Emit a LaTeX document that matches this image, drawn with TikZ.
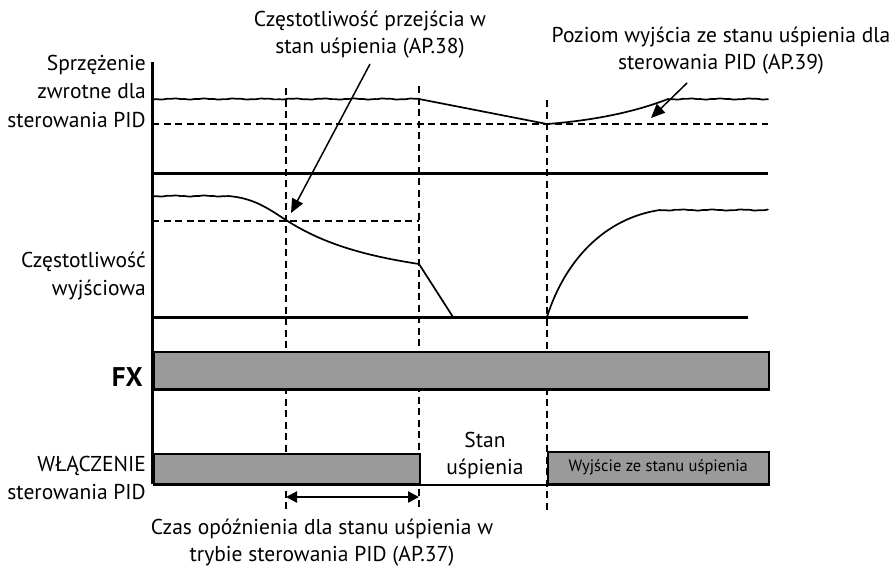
\documentclass[tikz,border=0pt]{standalone}
\usepackage{fontspec}
\setmainfont{PT Sans}
\usetikzlibrary{arrows.meta}
\definecolor{barfill}{HTML}{9A9A9A}
\newcommand{\wavyline}[3]{%
  \draw[sig] plot[domain=0:{#2-#1}, samples={int((#2-#1)/3)+2}]
    ({#1+\x}, {#3 + 0.45*sin(deg(0.21*\x)) + 0.22*sin(deg(0.67*\x+1.3))});}
\begin{document}
\begin{tikzpicture}[x=1pt,y=-1pt,
  lbl/.style={font=\fontsize{21.5}{28.5}\selectfont, inner sep=0pt, align=right, anchor=east},
  ann/.style={font=\fontsize{21.5}{27}\selectfont, inner sep=0pt, align=center},
  small/.style={font=\fontsize{16.5}{18}\selectfont, inner sep=0pt},
  sig/.style={line width=1.7pt, line cap=round, line join=round},
  heavy/.style={line width=3pt},
  guide/.style={line width=1.5pt, dash pattern=on 7pt off 4.5pt},
  bar/.style={draw, line width=1.6pt, fill=barfill, inner sep=0pt, anchor=north west},
  pointer/.style={line width=1.5pt, -{Triangle[length=14pt,width=12pt]}},
  span/.style={line width=2.4pt, {Triangle[length=11pt,width=11pt]}-{Triangle[length=11pt,width=11pt]}}]
\useasboundingbox (0,0) rectangle (893,570);

% coordinates
\coordinate (axtop) at (152,62);
\coordinate (axbot) at (152,484);
\coordinate (v1t) at (286,88);  \coordinate (v1b) at (286,510);
\coordinate (v2t) at (419,86);  \coordinate (v2b) at (419,510);
\coordinate (v3t) at (547,100); \coordinate (v3b) at (547,513);

% guide lines
\draw[guide] (v1t) -- (v1b);
\draw[guide] (v2t) -- (v2b);
\draw[guide] (v3t) -- (v3b);
\draw[guide] (152,124) -- (768,124);
\draw[guide] (152,221) -- (419,221);

% feedback signal
\wavyline{152}{419}{99}
\draw[sig] (419,99) -- (547,124) .. controls (600,120) and (640,110) .. (668,99);
\wavyline{668}{768}{99}

% separators
\draw[heavy] (152,173) -- (768,173);
\draw[heavy] (152,317) -- (748,317);

% output frequency
\wavyline{152}{228}{196}
\draw[sig] (228,196) .. controls (255,198) and (270,210) .. (286,220)
  .. controls (320,242) and (360,255) .. (419,264) -- (453,317);
\draw[sig] (547,317) .. controls (565,260) and (605,218) .. (660,210);
\wavyline{660}{768}{210}

% bars
\node[bar, minimum width=615pt, minimum height=37pt] (fx) at (153,351) {};
\draw[heavy] (fx.south west) -- (fx.south east);
\node[bar, minimum width=266pt, minimum height=30pt] (pid) at (153,453) {};
\node[bar, minimum width=221pt, minimum height=32pt, small] (wake) at (547,451) {Wyjście ze stanu uśpienia};
\draw[line width=2pt] (pid.south east) -- (wake.south west);
\draw[heavy] (pid.south west) -- (pid.south east);
\draw[heavy] (wake.south west) -- (wake.south east);

% axis
\draw[heavy] (axtop) -- (axbot);

% labels
\node[lbl] (fb) at (146,91) {Sprzężenie\\zwrotne dla\\sterowania PID};
\node[lbl] (freq) at (146,276) {Częstotliwość\\wyjściowa};
\node[lbl, font=\bfseries\fontsize{27}{30}\selectfont] (fxl) at (143,377) {FX};
\node[lbl] (en) at (146,478) {WŁĄCZENIE\\sterowania PID};
\node[ann] (sleep) at (485,455) {Stan\\uśpienia};

% annotations
\node[ann] (t38) at (370,35) {Częstotliwość przejścia w\\stan uśpienia (AP.38)};
\node[ann] (t39) at (721,51) {Poziom wyjścia ze stanu uśpienia dla\\sterowania PID (AP.39)};
\node[ann] (t37) at (322,543) {Czas opóźnienia dla stanu uśpienia w\\trybie sterowania PID (AP.37)};

\coordinate (a38s) at (370,64);
\coordinate (a38e) at (291,213);
\coordinate (a39s) at (687,83);
\coordinate (a39e) at (651,118);
\draw[pointer] (a38s) -- (a38e);
\draw[pointer] (a39s) -- (a39e);

\coordinate (d1) at (286,497);
\coordinate (d2) at (419,497);
\draw[span] (d1) -- (d2);
\end{tikzpicture}
\end{document}
